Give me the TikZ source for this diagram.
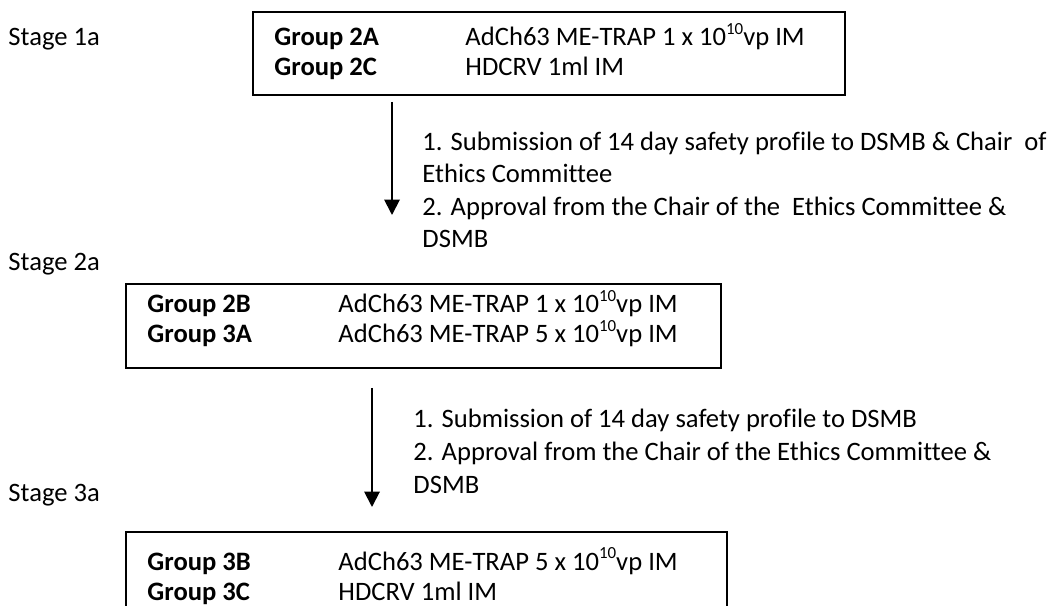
\documentclass[tikz,border=0pt]{standalone}
\usepackage{fontspec}
\setmainfont{Carlito}[Ligatures=NoCommon]
\usetikzlibrary{arrows.meta,positioning}
\newcommand{\powten}[1]{\raisebox{0.42em}{\fontsize{7}{8}\selectfont #1}}
\tikzset{
    stagebox/.style={draw, line width=0.85pt, anchor=north west, inner sep=0pt},
    lbl/.style={anchor=base west, inner sep=0pt, font=\fontsize{11}{13}\selectfont},
    grp/.style={lbl, font=\fontsize{11}{13}\selectfont\bfseries},
    flow/.style={-{Triangle[width=6.4pt,length=6.4pt]}, line width=0.8pt}
}

\begin{document}
\begin{tikzpicture}[x=0.4135pt,y=-0.4135pt]
  \useasboundingbox (0,0) rectangle (1052,606);
  \clip (0,0) rectangle (1052,606);

  % Stage labels
  \node[lbl] (s1) at (8,46) {Stage 1a};
  \node[lbl] (s2) at (8,271) {Stage 2a};
  \node[lbl] (s3) at (8,501) {Stage 3a};

  % Boxes
  \node[stagebox, minimum width=244.8pt, minimum height=34.3pt] (b1) at (252,11) {};
  \node[stagebox, minimum width=246.0pt, minimum height=34.7pt] (b2) at (125,283) {};
  \node[stagebox, minimum width=248.5pt, minimum height=42pt] (b3) at (125,531) {};

  % Box contents
  \node[grp] (g2a) at (274,46) {Group 2A};
  \node[lbl] (d2a) at (465,46) {AdCh63 ME-TRAP 1 x 10\powten{10}vp IM};
  \node[grp] (g2c) at (274,76) {Group 2C};
  \node[lbl] (d2c) at (465,76) {HDCRV 1ml IM};

  \node[grp] (g2b) at (147,313) {Group 2B};
  \node[lbl] (d2b) at (338,313) {AdCh63 ME-TRAP 1 x 10\powten{10}vp IM};
  \node[grp] (g3a) at (147,343) {Group 3A};
  \node[lbl] (d3a) at (338,343) {AdCh63 ME-TRAP 5 x 10\powten{10}vp IM};

  \node[grp] (g3b) at (147,570) {Group 3B};
  \node[lbl] (d3b) at (338,570) {AdCh63 ME-TRAP 5 x 10\powten{10}vp IM};
  \node[grp] (g3c) at (147,600) {Group 3C};
  \node[lbl] (d3c) at (338,600) {HDCRV 1ml IM};

  % Arrows
  \coordinate (a1s) at (392,102);
  \coordinate (a1e) at (392,215);
  \coordinate (a2s) at (372,388);
  \coordinate (a2e) at (372,507);
  \draw[flow] (a1s) -- (a1e);
  \draw[flow] (a2s) -- (a2e);

  % Conditions
  \node[lbl] (c1a) at (422,151) {1. Submission of 14 day safety profile to DSMB \& Chair~ of};
  \node[lbl] (c1b) at (422,183) {Ethics Committee};
  \node[lbl] (c1c) at (422,216) {2. Approval from the Chair of the~ Ethics Committee \&};
  \node[lbl] (c1d) at (422,248) {DSMB};

  \node[lbl] (c2a) at (413,428) {1. Submission of 14 day safety profile to DSMB};
  \node[lbl] (c2b) at (413,460) {2. Approval from the Chair of the Ethics Committee \&};
  \node[lbl] (c2c) at (413,493) {DSMB};
\end{tikzpicture}
\end{document}
